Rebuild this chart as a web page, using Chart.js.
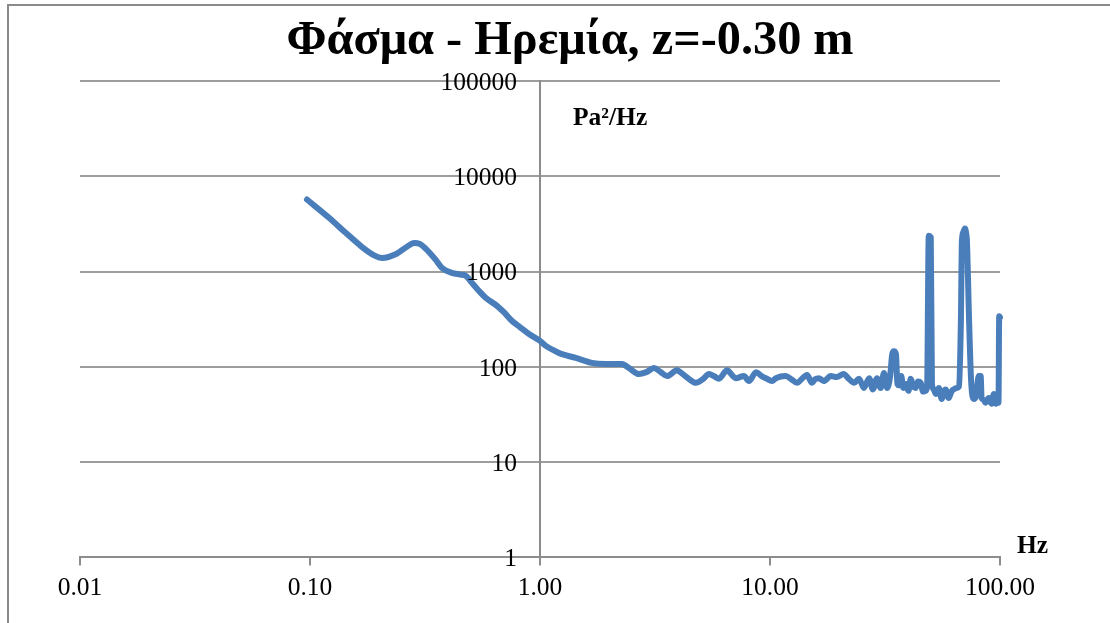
<!DOCTYPE html>
<html>
<head>
<meta charset="utf-8">
<title>Φάσμα - Ηρεμία, z=-0.30 m</title>
<script src="https://cdn.jsdelivr.net/npm/chart.js@4/dist/chart.umd.min.js"></script>
<style>
  html, body { margin: 0; padding: 0; background: #ffffff; }
  #wrap { position: relative; width: 1110px; height: 623px; overflow: hidden; }
  canvas { display: block; }
</style>
</head>
<body>
<div id="wrap"><canvas id="spectrum" width="1110" height="623"></canvas></div>
<script>
// Pressure spectrum, still water, z = -0.30 m
const freqHz = [
  0.097, 0.121, 0.143, 0.168, 0.19, 0.206, 0.237, 0.262, 0.284, 0.30,
  0.319, 0.35, 0.375, 0.414, 0.45, 0.477, 0.506, 0.545, 0.582, 0.65,
  0.70, 0.756, 0.82, 0.896, 1.0, 1.06, 1.21, 1.246, 1.43, 1.68,
  1.94, 2.27, 2.44, 2.69, 2.9, 3.13, 3.35, 3.57, 3.94, 4.02,
  4.4, 4.76, 5.1, 5.43, 5.7, 6.0, 6.5, 7.1, 7.7, 8.1,
  8.7, 9.2, 9.7, 10.2, 10.6, 11.7, 12.4, 13.1, 14.0, 14.5,
  15.2, 15.7, 16.3, 17.1, 18.4, 19.5, 20.9, 22.0, 23.2, 24.4,
  25.6, 27.0, 28.0, 29.2, 30.3, 31.3, 32.3, 33.3, 34.0, 34.6,
  35.3, 35.8, 36.5, 37.2, 38.0, 39.0, 40.0, 40.9, 42.0, 43.0,
  44.0, 45.2, 46.3, 47.5, 48.2, 49.0, 50.0, 50.6, 51.5, 52.6,
  54.2, 55.8, 57.0, 58.0, 59.8, 61.5, 62.9, 64.9, 66.3, 67.6,
  68.3, 69.3, 70.4, 71.3, 71.8, 73.4, 74.9, 76.9, 78.8, 80.8,
  82.4, 83.2, 84.8, 86.6, 89.3, 92.0, 94.0, 96.0, 97.3, 98.5,
  99.2, 100
];
const psdPa2Hz = [
  5700, 3670, 2550, 1820, 1480, 1390, 1530, 1800, 2000, 1950,
  1730, 1350, 1090, 970, 930, 900, 760, 620, 528, 437,
  370, 303, 260, 221, 187, 166, 140, 136, 124, 110,
  107, 107, 97, 84, 88, 97, 88, 80, 92, 90,
  76, 68, 74, 84, 80, 75, 92, 76, 80, 71,
  88, 80, 75, 71, 76, 80, 74, 68, 78, 82,
  68, 74, 76, 71, 80, 78, 84, 75, 68, 75,
  60, 76, 58, 76, 60, 86, 60, 80, 136, 146,
  136, 66, 64, 80, 60, 66, 56, 75, 62, 60,
  70, 68, 55, 56, 62, 2370, 2300, 66, 58, 52,
  60, 46, 55, 58, 47, 55, 58, 60, 62, 303,
  2100, 2600, 2830, 2500, 2100, 303, 71, 46, 50, 80,
  80, 47, 45, 42, 47, 41, 52, 41, 48, 42,
  340, 330
];
const yTickValues = [1, 10, 100, 1000, 10000, 100000];
const xTickValues = [0.01, 0.1, 1, 10, 100];

const titleText = 'Φάσμα - Ηρεμία, z=-0.30 m';
const yUnitText = 'Pa²/Hz';
const xUnitText = 'Hz';

const SERIF = '"Liberation Serif", "Times New Roman", serif';
const AXIS_GREY = '#8c8c8c';
const GRID_GREY = '#9d9d9d';

const points = freqHz.map((f, i) => ({ x: f, y: psdPa2Hz[i] }));

// Frame, title, y tick labels (left of the axis that crosses at 1 Hz) and unit labels
const decorations = {
  id: 'decorations',
  beforeDraw(chart) {
    const ctx = chart.ctx;
    ctx.save();
    ctx.fillStyle = '#ffffff';
    ctx.fillRect(0, 0, chart.width, chart.height);
    ctx.strokeStyle = '#8a8a8a';
    ctx.lineWidth = 2;
    ctx.beginPath();
    ctx.moveTo(8, chart.height + 5);
    ctx.lineTo(8, 5);
    ctx.lineTo(chart.width + 5, 5);
    ctx.stroke();
    ctx.restore();
  },
  afterDraw(chart) {
    const ctx = chart.ctx;
    const a = chart.chartArea;
    const xs = chart.scales.x;
    const ys = chart.scales.y;
    const axisX = xs.getPixelForValue(1);
    ctx.save();
    ctx.fillStyle = '#000000';

    ctx.textAlign = 'right';
    ctx.textBaseline = 'middle';
    ctx.font = '25.5px ' + SERIF;
    yTickValues.forEach(v => {
      ctx.fillText(String(v), axisX - 23, ys.getPixelForValue(v) + 2);
    });

    ctx.textBaseline = 'alphabetic';
    ctx.textAlign = 'center';
    ctx.font = 'bold 48.3px ' + SERIF;
    ctx.fillText(titleText, a.left + 490, 54);

    ctx.textAlign = 'left';
    ctx.font = 'bold 25.5px ' + SERIF;
    ctx.fillText(yUnitText, axisX + 33, a.top + 44);
    ctx.fillText(xUnitText, a.right + 17, a.bottom - 4);
    ctx.restore();
  }
};

new Chart(document.getElementById('spectrum'), {
  type: 'line',
  data: {
    datasets: [{
      data: points,
      borderColor: '#4a7ebb',
      backgroundColor: '#4a7ebb',
      borderWidth: 6,
      pointRadius: 0,
      cubicInterpolationMode: 'monotone',
      borderJoinStyle: 'round',
      borderCapStyle: 'round',
      clip: false
    }]
  },
  options: {
    responsive: false,
    animation: false,
    layout: { padding: { left: 80, right: 110, top: 81, bottom: 11 } },
    plugins: { legend: { display: false }, tooltip: { enabled: false }, title: { display: false } },
    scales: {
      x: {
        type: 'logarithmic',
        min: 0.01,
        max: 100,
        position: 'bottom',
        afterBuildTicks: s => { s.ticks = xTickValues.map(v => ({ value: v })); },
        ticks: {
          callback: v => Number(v).toFixed(2),
          font: { family: SERIF, size: 25.5 },
          color: '#000000',
          padding: 8,
          maxRotation: 0,
          autoSkip: false
        },
        grid: { drawOnChartArea: false, drawTicks: true, tickLength: 8, color: AXIS_GREY, lineWidth: 2 },
        border: { display: true, color: AXIS_GREY, width: 2 }
      },
      y: {
        type: 'logarithmic',
        min: 1,
        max: 100000,
        position: { x: 1 },
        afterBuildTicks: s => { s.ticks = yTickValues.map(v => ({ value: v })); },
        ticks: { display: false, autoSkip: false },
        grid: { color: GRID_GREY, lineWidth: 2, drawTicks: true, tickLength: 8 },
        border: { display: true, color: AXIS_GREY, width: 2 }
      }
    }
  },
  plugins: [decorations]
});
</script>
</body>
</html>
